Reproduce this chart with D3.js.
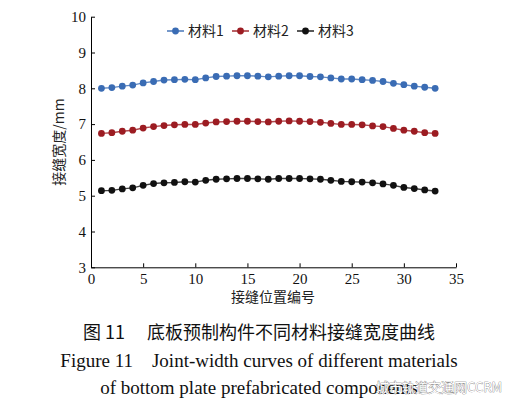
<!DOCTYPE html>
<html><head><meta charset="utf-8">
<script src="https://cdn.jsdelivr.net/npm/d3@7"></script>
<style>body{margin:0;background:#fff}svg{display:block}text{white-space:pre}</style>
</head><body><svg id="c" width="513" height="410"></svg>
<script>
const positions = d3.range(1, 34);
const seriesNames = ["材料1", "材料2", "材料3"];
const seriesColors = ["#3a6cb4", "#9c1c22", "#111111"];
const material1 = [8.00,8.02,8.06,8.09,8.15,8.19,8.23,8.24,8.25,8.24,8.29,8.33,8.34,8.35,8.35,8.34,8.32,8.34,8.35,8.35,8.33,8.32,8.29,8.26,8.26,8.24,8.22,8.19,8.14,8.10,8.06,8.03,8.00];
const material2 = [6.74,6.76,6.80,6.83,6.89,6.93,6.96,6.98,6.99,6.99,7.03,7.06,7.07,7.08,7.08,7.07,7.06,7.08,7.09,7.08,7.07,7.05,7.02,6.99,6.99,6.98,6.95,6.93,6.88,6.83,6.80,6.76,6.74];
const material3 = [5.14,5.15,5.19,5.22,5.29,5.34,5.36,5.37,5.39,5.38,5.43,5.46,5.47,5.48,5.48,5.47,5.46,5.48,5.48,5.48,5.47,5.46,5.43,5.40,5.39,5.38,5.36,5.33,5.29,5.23,5.20,5.16,5.13];
const xTicks = [0,5,10,15,20,25,30,35];
const yTicks = [3,4,5,6,7,8,9,10];
const xTitle = "接缝位置编号";
const yTitle = "接缝宽度/mm";
const captionCN = "图 11\u3000 底板预制构件不同材料接缝宽度曲线";
const captionEN1 = "Figure 11    Joint-width curves of different materials";
const captionEN2 = "of bottom plate prefabricated components";
const watermark = "城市轨道交通网CCRM";

const allSeries = [material1, material2, material3];
const svg = d3.select("#c");
const x = d3.scaleLinear().domain([0,35]).range([91,456]);
const y = d3.scaleLinear().domain([3,10]).range([267.3,16.7]);
const serif = "Liberation Serif";
const cjk = "Noto Sans CJK SC";

const xa = svg.append("g").attr("transform",`translate(0,${y(3)})`)
  .call(d3.axisBottom(x).tickValues(xTicks).tickFormat(d3.format("d")).tickSize(-4).tickSizeOuter(0).tickPadding(6));
const ya = svg.append("g").attr("transform",`translate(${x(0)},0)`)
  .call(d3.axisLeft(y).tickValues(yTicks).tickFormat(d3.format("d")).tickSize(-4).tickSizeOuter(0).tickPadding(5));
[xa,ya].forEach(a=>{
  a.attr("font-family",serif).attr("font-size",15);
  a.selectAll("path,line").attr("stroke","#000").attr("stroke-width",1);
  a.selectAll("text").attr("font-family",serif).attr("font-size",15).attr("fill","#111");
});

const line = d3.line().x((d,i)=>x(positions[i])).y(d=>y(d));
allSeries.forEach((s,k)=>{
  svg.append("path").datum(s).attr("d",line).attr("fill","none")
    .attr("stroke",seriesColors[k]).attr("stroke-width",1.4).attr("stroke-opacity",0.8);
  svg.append("g").selectAll("circle").data(s).join("circle")
    .attr("cx",(d,i)=>x(positions[i])).attr("cy",d=>y(d)).attr("r",3.4)
    .attr("fill",seriesColors[k]);
});

// legend
const legX = [167, 232, 297];
seriesNames.forEach((n,k)=>{
  const g = svg.append("g").attr("transform",`translate(${legX[k]},31)`);
  g.append("line").attr("x1",0).attr("x2",17).attr("stroke",seriesColors[k]).attr("stroke-width",1.4);
  g.append("circle").attr("cx",8.5).attr("r",3.4).attr("fill",seriesColors[k]);
  g.append("text").attr("x",21).attr("y",5).attr("font-family",cjk).attr("font-size",14)
    .attr("fill","#222").text(n);
});

svg.append("text").attr("x",273).attr("y",302).attr("text-anchor","middle")
  .attr("font-family",cjk).attr("font-size",14).attr("fill","#222").text(xTitle);
svg.append("text").attr("transform","translate(64,142) rotate(-90)").attr("text-anchor","middle")
  .attr("font-family",cjk).attr("font-size",14).attr("fill","#222").text(yTitle);

svg.append("text").attr("x",259).attr("y",339).attr("text-anchor","middle")
  .attr("font-family",cjk).attr("font-size",18).attr("fill","#111").text(captionCN);
svg.append("text").attr("x",259).attr("y",367).attr("text-anchor","middle")
  .attr("font-family",serif).attr("font-size",19).attr("fill","#111").text(captionEN1);
svg.append("text").attr("x",259).attr("y",394).attr("text-anchor","middle")
  .attr("font-family",serif).attr("font-size",19).attr("fill","#111").text(captionEN2);
svg.append("text").attr("x",376).attr("y",392).attr("font-family",cjk).attr("font-size",13)
  .attr("fill","#fff").attr("stroke","#666").attr("stroke-width",0.6).attr("paint-order","stroke").text(watermark);
</script></body></html>
